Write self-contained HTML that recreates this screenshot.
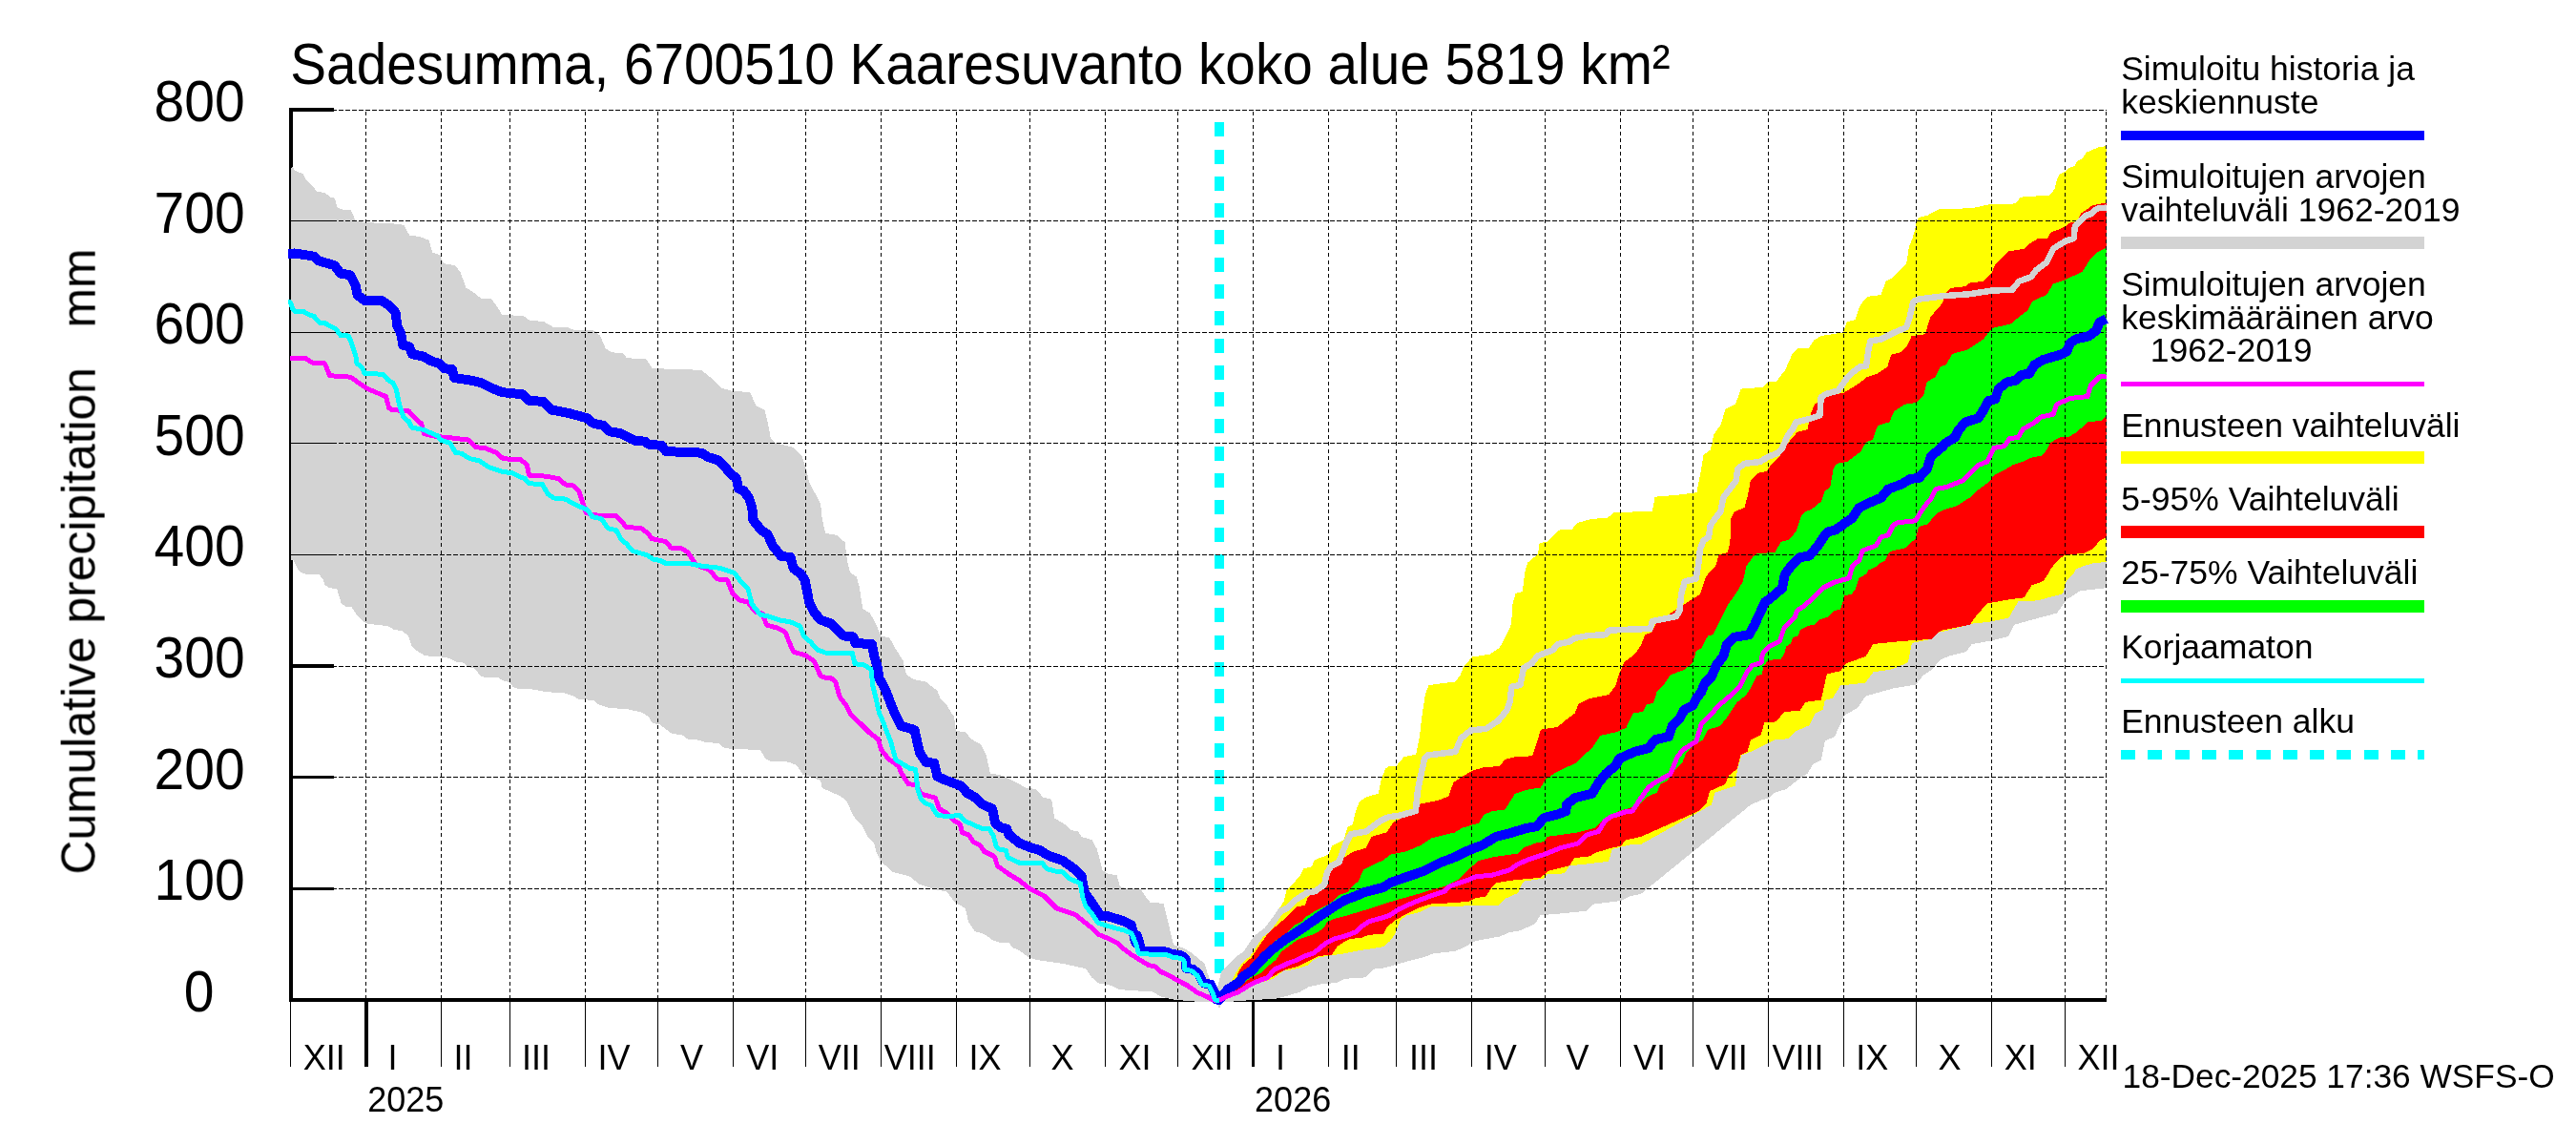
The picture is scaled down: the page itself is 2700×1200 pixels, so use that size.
<!DOCTYPE html>
<html><head><meta charset="utf-8"><title>Sadesumma</title><style>html,body{margin:0;padding:0;background:#fff;overflow:hidden}</style></head><body>
<svg width="2700" height="1200" viewBox="0 0 2700 1200" style="display:block">
<rect width="2700" height="1200" fill="#fff"/>
<g shape-rendering="crispEdges">
<line x1="1278.0" y1="1048.5" x2="1278.0" y2="115.0" stroke="#00ffff" stroke-width="10" stroke-dasharray="15 13.29"/>
<rect x="303.4" y="113.3" width="3.6" height="936.7" fill="#000"/>
<rect x="303.4" y="1046.0" width="1904.2" height="4" fill="#000"/>
<rect x="305" y="1046.3" width="45" height="3.4" fill="#000"/>
<rect x="305" y="929.7" width="45" height="3.4" fill="#000"/>
<rect x="305" y="813.0" width="45" height="3.4" fill="#000"/>
<rect x="305" y="696.4" width="45" height="3.4" fill="#000"/>
<rect x="305" y="579.8" width="45" height="3.4" fill="#000"/>
<rect x="305" y="463.2" width="45" height="3.4" fill="#000"/>
<rect x="305" y="346.6" width="45" height="3.4" fill="#000"/>
<rect x="305" y="229.9" width="45" height="3.4" fill="#000"/>
<rect x="305" y="113.3" width="45" height="3.4" fill="#000"/>
<rect x="304.4" y="1048.0" width="1" height="70" fill="#000"/>
<rect x="382.3" y="1048.0" width="3.4" height="70" fill="#000"/>
<rect x="462.3" y="1048.0" width="1" height="70" fill="#000"/>
<rect x="533.6" y="1048.0" width="1" height="70" fill="#000"/>
<rect x="612.6" y="1048.0" width="1" height="70" fill="#000"/>
<rect x="689.0" y="1048.0" width="1" height="70" fill="#000"/>
<rect x="768.0" y="1048.0" width="1" height="70" fill="#000"/>
<rect x="844.4" y="1048.0" width="1" height="70" fill="#000"/>
<rect x="923.3" y="1048.0" width="1" height="70" fill="#000"/>
<rect x="1002.3" y="1048.0" width="1" height="70" fill="#000"/>
<rect x="1078.7" y="1048.0" width="1" height="70" fill="#000"/>
<rect x="1157.6" y="1048.0" width="1" height="70" fill="#000"/>
<rect x="1234.1" y="1048.0" width="1" height="70" fill="#000"/>
<rect x="1311.9" y="1048.0" width="3.4" height="70" fill="#000"/>
<rect x="1392.0" y="1048.0" width="1" height="70" fill="#000"/>
<rect x="1463.3" y="1048.0" width="1" height="70" fill="#000"/>
<rect x="1542.2" y="1048.0" width="1" height="70" fill="#000"/>
<rect x="1618.7" y="1048.0" width="1" height="70" fill="#000"/>
<rect x="1697.6" y="1048.0" width="1" height="70" fill="#000"/>
<rect x="1774.0" y="1048.0" width="1" height="70" fill="#000"/>
<rect x="1853.0" y="1048.0" width="1" height="70" fill="#000"/>
<rect x="1931.9" y="1048.0" width="1" height="70" fill="#000"/>
<rect x="2008.3" y="1048.0" width="1" height="70" fill="#000"/>
<rect x="2087.3" y="1048.0" width="1" height="70" fill="#000"/>
<rect x="2163.7" y="1048.0" width="1" height="70" fill="#000"/>
<path d="M1275.5,1049 L1280.5,1049 L1278,1057.5Z" fill="#d3d3d3"/>
<path d="M304.6,176.2 L306.8,175.2 L309.7,179.1 L317.5,182.0 L320.4,187.8 L329.1,196.6 L332.0,200.9 L339.8,201.8 L346.6,206.7 L350.9,207.6 L353.4,217.0 L357.3,219.3 L367.9,220.5 L372.8,231.5 L383.5,233.1 L411.6,234.4 L423.3,235.8 L429.1,246.5 L439.8,248.0 L449.5,251.9 L453.3,264.5 L461.1,267.4 L465.0,276.2 L476.6,278.1 L482.5,284.9 L488.3,301.4 L496.0,306.2 L503.8,312.5 L514.5,313.0 L520.3,320.2 L526.1,329.5 L549.4,331.5 L555.2,335.9 L569.8,336.9 L579.5,342.7 L595.0,343.1 L601.8,346.0 L622.2,346.4 L629.0,351.9 L634.8,365.5 L641.6,369.3 L653.3,370.3 L656.7,375.2 L677.3,376.3 L683.9,386.1 L735.0,387.8 L743.7,394.8 L750.2,400.2 L756.7,406.8 L766.5,409.6 L786.1,411.1 L792.6,425.2 L801.3,429.6 L804.6,442.6 L807.8,459.0 L813.3,464.4 L830.7,468.7 L840.5,478.5 L844.8,490.5 L848.1,505.7 L853.5,515.5 L860.0,527.5 L861.7,543.5 L865.0,558.7 L877.0,560.9 L885.7,568.5 L887.8,587.0 L891.1,600.0 L897.6,604.4 L900.9,615.3 L904.2,638.1 L911.8,642.5 L916.1,650.1 L923.7,666.4 L932.4,668.6 L939.0,680.5 L946.6,692.5 L949.8,706.6 L957.4,712.0 L970.5,714.7 L982.5,724.0 L985.7,732.7 L991.2,737.1 L997.7,747.9 L999.9,750.9 L1002.0,766.1 L1011.8,767.2 L1018.3,774.8 L1028.1,780.2 L1033.6,791.1 L1037.9,810.7 L1048.8,812.2 L1068.4,821.6 L1073.8,825.3 L1085.8,827.0 L1093.4,835.7 L1102.1,837.9 L1105.3,857.4 L1116.2,864.0 L1122.7,870.1 L1130.3,871.6 L1133.6,877.0 L1144.5,880.3 L1149.9,890.1 L1155.4,911.8 L1160.8,915.7 L1170.6,917.3 L1173.8,929.2 L1179.3,931.0 L1195.6,931.8 L1201.0,940.1 L1205.4,945.5 L1219.5,947.0 L1224.9,968.4 L1229.3,987.9 L1230.9,990.5 L1240.2,993.6 L1248.7,998.3 L1255.0,1003.7 L1262.7,1010.0 L1265.8,1020.8 L1270.5,1031.7 L1275.2,1041.0 L1278.0,1050.3 L1278.0,1050.3 L1264.3,1050.4 L1242.5,1048.8 L1228.5,1047.3 L1216.1,1044.2 L1208.3,1039.5 L1174.1,1037.2 L1163.2,1032.5 L1150.8,1030.2 L1144.6,1024.7 L1138.4,1015.4 L1115.0,1010.0 L1087.1,1006.1 L1077.7,1003.0 L1068.4,996.0 L1062.2,993.6 L1057.5,988.2 L1048.8,987.9 L1041.2,985.8 L1031.4,978.8 L1021.6,976.0 L1015.1,966.2 L1011.8,952.0 L1000.9,945.5 L992.2,934.6 L979.2,931.8 L964.0,927.0 L953.1,918.3 L935.7,914.0 L923.7,903.1 L918.3,892.2 L916.1,883.5 L909.6,877.0 L903.1,864.4 L894.4,855.3 L887.8,840.0 L881.3,834.6 L861.7,825.9 L860.0,818.1 L852.4,814.9 L841.5,811.6 L835.0,801.8 L826.3,798.6 L806.7,797.5 L802.4,795.3 L797.0,786.0 L767.6,784.9 L758.9,783.8 L753.5,779.0 L739.3,777.9 L732.8,775.7 L720.8,774.6 L714.3,769.9 L704.5,769.2 L691.5,759.4 L683.9,757.9 L679.5,750.7 L671.9,746.4 L656.7,743.1 L638.2,742.0 L626.2,737.7 L623.0,734.0 L606.7,732.9 L601.2,729.6 L591.4,726.2 L574.0,725.3 L557.7,722.5 L543.6,721.8 L538.1,720.3 L533.8,714.8 L528.4,713.8 L521.8,710.1 L507.7,709.8 L503.3,708.3 L497.9,700.7 L491.4,699.2 L484.9,694.2 L478.3,693.5 L467.5,688.7 L452.2,688.1 L444.6,686.6 L437.0,682.2 L431.6,676.8 L428.3,667.0 L421.8,661.1 L413.1,660.0 L406.6,656.1 L385.9,653.9 L381.6,651.8 L373.9,644.2 L368.5,636.5 L362.0,635.5 L357.6,632.2 L353.3,617.4 L344.6,615.9 L340.2,612.6 L339.1,607.9 L334.8,602.5 L318.5,601.4 L313.0,598.1 L307.6,587.3 L304.6,586.2Z" fill="#d3d3d3"/>
<path d="M1278.0,1048.0 L1279.8,1032.8 L1283.3,1019.5 L1288.9,1013.9 L1297.2,1005.5 L1305.6,999.9 L1311.2,991.5 L1316.8,983.1 L1328.0,974.8 L1336.4,963.6 L1342.0,955.2 L1350.4,951.0 L1358.7,942.6 L1369.9,935.6 L1378.3,934.2 L1388.1,927.2 L1390.9,914.7 L1395.1,907.7 L1403.5,903.5 L1410.4,884.9 L1415.8,874.2 L1431.9,871.5 L1446.2,860.7 L1455.2,856.3 L1467.7,854.5 L1483.8,850.0 L1485.9,829.1 L1489.5,811.1 L1493.1,795.0 L1496.7,791.5 L1511.0,789.7 L1525.3,787.9 L1531.6,773.5 L1541.5,765.5 L1557.6,763.7 L1570.1,755.6 L1579.1,744.9 L1582.6,735.9 L1584.4,719.8 L1593.4,718.0 L1597.0,700.1 L1605.9,694.8 L1611.3,687.6 L1627.4,681.3 L1632.8,675.1 L1645.3,672.4 L1650.7,668.8 L1665.0,666.1 L1682.9,665.2 L1686.5,660.7 L1704.4,659.8 L1729.5,659.0 L1732.1,650.9 L1757.0,646.1 L1760.5,639.8 L1762.3,621.9 L1765.9,609.4 L1777.5,606.7 L1780.2,591.5 L1782.0,575.3 L1785.6,566.4 L1791.0,562.8 L1792.8,550.3 L1798.1,543.1 L1803.5,535.9 L1806.2,521.6 L1814.3,510.9 L1819.6,503.7 L1821.4,491.2 L1828.6,485.8 L1844.7,484.0 L1853.6,478.6 L1862.6,475.1 L1868.0,469.7 L1873.3,457.2 L1878.7,450.0 L1882.4,442.5 L1896.7,439.0 L1907.4,435.4 L1908.6,416.5 L1914.0,412.9 L1926.5,409.4 L1935.5,396.8 L1942.6,389.7 L1949.8,384.3 L1956.1,383.4 L1958.7,364.6 L1960.5,357.4 L1971.3,355.6 L1985.6,348.5 L1998.1,343.1 L2001.7,332.4 L2005.3,316.2 L2010.7,313.6 L2039.3,310.0 L2064.4,308.2 L2087.7,304.6 L2109.1,303.7 L2116.3,294.8 L2128.8,290.3 L2134.2,283.1 L2145.0,275.1 L2152.1,260.7 L2164.7,252.7 L2173.6,250.0 L2174.8,237.4 L2179.8,232.4 L2186.0,226.2 L2192.3,223.7 L2196.0,219.9 L2199.8,218.0 L2207.6,217.7 L2207.6,616.2 L2180.2,619.3 L2166.1,628.4 L2155.9,642.6 L2125.5,650.7 L2111.3,654.7 L2105.3,666.9 L2085.0,671.9 L2066.8,675.0 L2060.7,683.1 L2044.5,687.1 L2034.3,691.2 L2024.2,702.3 L2016.1,707.4 L2008.0,717.5 L1983.7,721.6 L1955.3,729.7 L1947.2,741.8 L1933.0,749.9 L1922.9,772.2 L1912.8,776.3 L1908.7,796.6 L1900.6,800.6 L1894.5,810.7 L1882.4,818.8 L1872.2,827.0 L1860.0,830.8 L1854.8,836.2 L1847.6,838.0 L1835.1,843.4 L1720.0,936.8 L1707.6,939.5 L1698.7,944.0 L1670.0,947.6 L1662.9,954.7 L1636.0,957.4 L1614.5,959.2 L1609.1,968.2 L1593.0,975.3 L1582.3,977.1 L1571.5,981.6 L1546.5,986.1 L1533.9,993.2 L1525.0,996.8 L1501.7,999.5 L1492.8,1003.1 L1474.9,1007.6 L1453.4,1013.8 L1450.0,1014.6 L1441.9,1015.3 L1437.7,1017.4 L1430.7,1024.4 L1409.7,1025.8 L1401.4,1030.0 L1384.6,1031.4 L1372.0,1034.2 L1362.2,1039.7 L1348.3,1043.9 L1337.1,1046.7 L1311.9,1048.1 L1284.0,1050.2 L1308.0,1050.3 L1278.0,1050.3Z" fill="#d3d3d3"/>
<path d="M1278.0,1048.0 L1284.0,1038.3 L1291.0,1027.9 L1296.6,1017.4 L1302.1,1009.0 L1310.5,1002.0 L1316.1,993.6 L1321.7,985.2 L1327.3,976.9 L1337.1,967.1 L1340.6,960.1 L1341.3,951.7 L1345.5,944.7 L1348.3,933.5 L1353.8,927.9 L1362.2,918.2 L1366.4,910.5 L1374.8,908.4 L1377.6,901.4 L1378.2,901.0 L1392.5,895.7 L1396.1,886.7 L1408.6,880.4 L1412.2,867.0 L1417.6,864.3 L1421.1,850.0 L1425.1,839.8 L1432.2,835.3 L1444.8,831.7 L1447.4,818.3 L1451.9,805.8 L1455.5,803.1 L1463.6,802.6 L1471.6,793.2 L1484.2,790.6 L1487.7,773.5 L1490.4,750.3 L1494.0,727.0 L1497.6,718.0 L1525.3,714.5 L1530.7,707.3 L1534.3,698.3 L1543.2,688.5 L1561.1,685.8 L1571.9,678.6 L1579.1,665.2 L1583.5,655.4 L1584.4,650.0 L1585.1,634.4 L1588.6,621.9 L1595.8,620.1 L1598.5,598.6 L1601.2,589.7 L1611.9,580.7 L1613.7,569.1 L1622.7,567.3 L1633.4,555.6 L1647.7,554.7 L1653.1,548.1 L1667.4,544.0 L1685.3,542.7 L1690.7,537.4 L1731.9,535.6 L1734.6,520.7 L1757.0,518.9 L1778.4,516.2 L1782.9,493.0 L1785.6,476.9 L1792.8,471.5 L1796.3,455.4 L1799.9,450.0 L1803.0,447.0 L1808.3,429.1 L1819.1,423.7 L1824.5,407.6 L1847.7,405.8 L1853.1,400.4 L1862.1,399.5 L1871.0,387.9 L1878.2,371.8 L1883.5,365.5 L1896.1,364.6 L1901.5,356.5 L1908.6,352.1 L1931.9,348.5 L1935.5,337.7 L1944.4,335.0 L1949.8,319.8 L1957.0,310.9 L1971.3,309.1 L1976.7,294.8 L1983.8,291.2 L1992.8,282.2 L1998.1,276.9 L2000.8,259.0 L2004.4,250.0 L2007.4,239.9 L2008.7,231.8 L2011.2,228.0 L2019.9,225.9 L2024.9,223.0 L2032.4,219.3 L2056.1,218.9 L2058.6,218.0 L2072.4,217.4 L2079.9,215.2 L2087.4,213.9 L2109.8,213.7 L2113.6,212.4 L2117.3,206.8 L2129.8,205.6 L2146.7,205.2 L2151.1,201.8 L2153.6,197.4 L2156.1,187.4 L2158.6,182.4 L2164.8,179.9 L2168.5,176.2 L2174.8,173.7 L2177.3,168.7 L2182.3,166.2 L2187.3,159.3 L2192.3,157.5 L2199.8,154.0 L2204.8,153.7 L2207.6,151.8 L2207.6,589.0 L2193.9,590.3 L2185.0,592.9 L2176.0,596.5 L2174.2,600.0 L2166.1,608.1 L2162.0,622.3 L2135.7,629.4 L2115.4,630.4 L2105.3,647.6 L2085.0,651.7 L2066.8,653.7 L2048.5,658.8 L2032.3,662.8 L2024.2,669.9 L2004.0,674.0 L1999.9,694.2 L1983.7,701.3 L1963.4,704.4 L1955.3,715.5 L1929.0,718.5 L1920.9,731.7 L1912.8,733.7 L1910.7,743.9 L1902.6,747.9 L1896.6,760.1 L1882.4,766.2 L1874.3,774.3 L1860.0,775.3 L1835.1,787.9 L1825.2,791.5 L1820.8,807.6 L1819.0,823.7 L1810.0,826.4 L1797.5,830.8 L1793.9,843.4 L1720.0,884.9 L1711.2,884.9 L1698.7,887.6 L1689.7,890.3 L1686.1,902.8 L1662.9,905.5 L1645.0,907.3 L1639.6,915.4 L1621.7,916.2 L1618.1,920.7 L1598.4,923.4 L1594.8,927.0 L1591.2,935.9 L1578.7,941.3 L1571.5,948.5 L1539.3,949.4 L1499.9,950.3 L1489.2,955.6 L1474.9,959.2 L1467.7,964.6 L1462.3,978.9 L1457.0,986.1 L1450.0,992.2 L1423.7,996.4 L1409.7,999.2 L1395.8,1001.3 L1381.8,1003.4 L1376.2,1006.2 L1370.6,1011.8 L1356.6,1016.0 L1345.5,1017.4 L1339.9,1021.6 L1334.3,1025.8 L1311.9,1032.8 L1284.0,1047.4 L1278.0,1048.0Z" fill="#ffff00"/>
<path d="M1278.0,1048.0 L1284.0,1039.7 L1295.2,1028.6 L1297.9,1018.8 L1303.5,1010.4 L1311.9,1003.4 L1317.5,995.0 L1323.1,986.6 L1328.7,978.3 L1339.9,968.5 L1349.7,960.1 L1359.4,950.3 L1367.8,948.9 L1370.6,940.5 L1377.6,934.9 L1386.0,930.7 L1388.8,922.4 L1393.0,908.4 L1400.0,905.6 L1406.9,900.0 L1417.6,893.0 L1431.9,888.5 L1437.3,876.9 L1453.4,872.4 L1460.5,861.6 L1471.3,856.3 L1483.8,850.0 L1484.2,843.4 L1507.4,838.9 L1518.2,834.4 L1523.5,820.1 L1534.3,812.9 L1543.2,807.6 L1555.8,804.0 L1571.9,803.1 L1577.3,795.9 L1588.0,793.2 L1605.9,792.3 L1609.5,782.5 L1614.9,764.6 L1632.8,761.9 L1639.9,755.6 L1650.7,747.6 L1654.3,737.7 L1665.0,732.4 L1686.5,727.9 L1693.6,718.0 L1697.2,705.5 L1702.6,693.9 L1713.3,685.8 L1720.5,675.1 L1724.1,665.2 L1731.2,662.5 L1736.6,651.8 L1782.0,622.8 L1787.4,605.8 L1791.0,600.4 L1798.1,593.2 L1801.7,581.6 L1810.7,578.9 L1813.4,568.2 L1814.3,543.1 L1817.8,536.8 L1828.6,531.5 L1832.2,518.0 L1834.8,503.7 L1842.9,495.7 L1851.9,493.9 L1857.2,485.8 L1864.4,479.5 L1871.5,467.9 L1876.9,460.7 L1884.1,452.7 L1894.8,450.0 L1896.7,437.2 L1899.7,429.1 L1902.3,422.8 L1906.8,421.9 L1912.2,414.7 L1931.9,412.0 L1939.1,407.6 L1948.0,402.2 L1957.0,395.0 L1967.7,391.5 L1978.4,384.3 L1982.0,371.8 L1992.8,369.1 L1999.9,361.0 L2003.5,352.1 L2017.8,350.3 L2023.2,332.4 L2035.7,318.0 L2039.3,307.3 L2044.7,301.9 L2060.8,300.1 L2064.4,296.6 L2078.7,294.8 L2087.7,285.8 L2091.2,276.9 L2100.2,267.9 L2105.6,263.4 L2121.7,260.7 L2127.1,255.4 L2136.0,250.0 L2146.1,249.9 L2149.8,243.0 L2156.1,241.2 L2164.8,237.4 L2168.5,233.7 L2176.7,232.4 L2181.0,223.7 L2188.5,218.7 L2191.0,216.2 L2199.8,213.7 L2207.6,213.0 L2207.6,563.4 L2201.1,566.1 L2193.9,575.0 L2185.0,579.5 L2163.5,582.2 L2158.1,585.8 L2149.1,596.5 L2147.8,600.0 L2141.7,609.1 L2129.6,613.2 L2121.5,626.3 L2105.3,628.4 L2083.0,632.4 L2072.8,643.6 L2064.7,654.7 L2034.3,660.8 L2024.2,669.9 L1993.8,671.9 L1963.4,675.0 L1955.3,688.1 L1935.1,695.2 L1929.0,703.3 L1914.8,706.4 L1908.7,733.7 L1892.5,735.8 L1886.4,744.9 L1870.2,745.9 L1862.1,756.0 L1860.0,756.5 L1849.4,757.4 L1845.8,770.0 L1835.1,775.3 L1831.5,787.9 L1824.4,791.5 L1820.8,805.8 L1811.8,812.9 L1808.2,821.9 L1792.1,829.1 L1788.5,841.6 L1781.4,849.6 L1720.0,876.9 L1704.0,880.4 L1698.7,886.7 L1689.7,888.5 L1671.8,893.9 L1666.4,897.4 L1650.3,899.2 L1645.0,907.3 L1623.5,912.7 L1614.5,919.8 L1585.9,922.5 L1568.0,925.2 L1564.4,928.8 L1557.2,939.5 L1546.5,941.3 L1539.3,944.9 L1514.3,946.7 L1498.1,947.6 L1485.6,952.1 L1474.9,957.4 L1462.3,964.6 L1453.4,971.8 L1450.0,979.0 L1434.9,979.7 L1426.5,983.1 L1415.3,983.8 L1409.7,986.6 L1401.4,992.2 L1395.8,1000.6 L1381.8,1002.0 L1376.2,1004.8 L1367.8,1009.0 L1359.4,1013.2 L1348.3,1016.0 L1339.9,1020.2 L1335.7,1023.0 L1331.5,1024.4 L1311.9,1031.4 L1284.0,1046.7 L1278.0,1048.0Z" fill="#ff0000"/>
<path d="M1278.0,1048.0 L1284.0,1039.7 L1304.9,1018.8 L1311.9,1010.4 L1325.9,997.8 L1335.7,986.6 L1348.3,978.3 L1356.6,969.9 L1365.0,965.7 L1367.8,961.5 L1379.0,954.5 L1390.2,948.9 L1398.6,943.3 L1404.2,937.7 L1412.5,934.9 L1418.1,927.9 L1423.7,923.8 L1429.3,911.2 L1437.7,907.0 L1450.0,901.4 L1457.0,895.7 L1474.9,892.1 L1489.2,885.8 L1499.9,878.6 L1525.0,872.4 L1532.2,867.9 L1550.1,862.5 L1555.4,853.6 L1564.4,850.0 L1577.3,848.7 L1588.0,831.7 L1602.3,827.3 L1614.9,825.5 L1620.2,816.5 L1631.0,809.4 L1638.1,805.8 L1650.7,800.4 L1659.6,791.5 L1668.6,784.3 L1677.5,770.9 L1693.6,767.3 L1704.4,762.8 L1711.5,747.6 L1722.3,745.8 L1725.9,738.6 L1733.0,736.8 L1736.6,725.2 L1743.8,718.0 L1750.9,707.3 L1765.3,701.9 L1774.2,694.8 L1777.8,682.2 L1783.2,679.5 L1790.3,666.1 L1795.7,665.2 L1801.1,653.6 L1810.7,634.4 L1819.6,621.9 L1826.8,609.4 L1830.4,593.2 L1837.5,583.4 L1841.1,580.3 L1860.8,578.9 L1866.2,568.2 L1875.1,565.5 L1882.3,557.4 L1887.7,541.3 L1893.0,535.9 L1898.4,534.2 L1909.1,525.2 L1912.7,514.5 L1918.1,510.9 L1921.7,491.2 L1925.3,485.8 L1936.0,484.0 L1950.3,473.3 L1955.7,463.4 L1962.9,460.7 L1966.4,450.0 L1968.3,446.1 L1979.1,442.5 L1980.2,442.5 L1985.6,430.8 L1996.3,423.7 L2008.9,421.9 L2016.0,414.7 L2019.6,400.4 L2028.6,395.0 L2033.9,384.3 L2039.3,382.5 L2046.5,370.9 L2062.6,366.4 L2078.7,355.6 L2087.7,344.0 L2107.4,339.5 L2118.1,330.6 L2125.3,325.2 L2130.6,315.4 L2145.0,309.1 L2152.1,297.4 L2162.9,293.9 L2182.6,284.9 L2189.7,273.3 L2198.7,264.3 L2207.6,259.8 L2207.6,435.4 L2202.9,440.7 L2188.5,442.5 L2176.0,453.3 L2168.8,457.8 L2158.1,458.6 L2149.1,464.0 L2145.6,471.2 L2140.2,477.4 L2127.7,480.1 L2120.5,483.7 L2109.8,487.3 L2100.8,492.7 L2090.1,498.0 L2084.7,505.2 L2072.2,514.2 L2065.0,521.3 L2050.7,530.3 L2036.3,534.7 L2031.0,537.4 L2020.0,549.4 L2011.2,552.1 L2007.6,564.6 L1996.9,574.4 L1980.8,578.0 L1975.4,587.9 L1971.0,590.0 L1965.4,594.5 L1958.5,597.4 L1956.3,601.4 L1948.3,605.9 L1944.9,617.3 L1940.4,622.9 L1933.6,624.1 L1931.9,629.7 L1929.0,638.8 L1922.2,640.0 L1915.4,646.8 L1906.3,649.6 L1902.9,654.2 L1893.8,656.4 L1887.0,659.8 L1884.7,666.1 L1879.1,668.4 L1876.8,674.6 L1872.2,677.4 L1870.0,685.4 L1866.6,690.5 L1852.9,692.2 L1848.4,699.0 L1846.7,707.0 L1841.6,708.1 L1835.9,719.5 L1829.7,728.8 L1820.8,735.9 L1810.0,752.1 L1802.9,761.0 L1790.3,764.6 L1785.0,775.3 L1777.8,778.9 L1767.1,789.7 L1763.5,798.6 L1754.5,807.6 L1747.4,818.3 L1740.2,821.9 L1736.6,830.8 L1727.7,834.4 L1716.9,844.3 L1696.9,850.0 L1689.7,853.6 L1679.0,860.7 L1671.8,867.9 L1653.9,872.4 L1621.7,876.9 L1618.1,882.2 L1610.9,883.1 L1596.6,888.5 L1591.2,894.8 L1582.3,895.7 L1564.4,898.3 L1550.1,901.9 L1539.3,910.9 L1528.6,921.6 L1514.3,928.8 L1498.1,933.3 L1483.8,937.7 L1464.1,943.1 L1450.0,947.5 L1437.7,951.7 L1423.7,955.9 L1409.7,960.1 L1398.6,962.9 L1391.6,965.7 L1387.4,972.7 L1379.0,978.3 L1367.8,982.4 L1359.4,985.2 L1353.8,989.4 L1342.7,997.8 L1337.1,1006.2 L1330.1,1011.8 L1323.1,1018.8 L1311.9,1024.4 L1284.0,1043.9 L1278.0,1048.0Z" fill="#00ff00"/>
<line x1="305.3" y1="931.5" x2="2207.6" y2="931.5" stroke="#000" stroke-width="1" stroke-dasharray="5 2.07"/>
<line x1="305" y1="931.5" x2="350" y2="931.5" stroke="#000" stroke-width="1"/>
<line x1="305.3" y1="814.5" x2="2207.6" y2="814.5" stroke="#000" stroke-width="1" stroke-dasharray="5 2.07"/>
<line x1="305" y1="814.5" x2="350" y2="814.5" stroke="#000" stroke-width="1"/>
<line x1="305.3" y1="698.5" x2="2207.6" y2="698.5" stroke="#000" stroke-width="1" stroke-dasharray="5 2.07"/>
<line x1="305" y1="698.5" x2="350" y2="698.5" stroke="#000" stroke-width="1"/>
<line x1="305.3" y1="581.5" x2="2207.6" y2="581.5" stroke="#000" stroke-width="1" stroke-dasharray="5 2.07"/>
<line x1="305" y1="581.5" x2="350" y2="581.5" stroke="#000" stroke-width="1"/>
<line x1="305.3" y1="464.5" x2="2207.6" y2="464.5" stroke="#000" stroke-width="1" stroke-dasharray="5 2.07"/>
<line x1="305" y1="464.5" x2="350" y2="464.5" stroke="#000" stroke-width="1"/>
<line x1="305.3" y1="348.5" x2="2207.6" y2="348.5" stroke="#000" stroke-width="1" stroke-dasharray="5 2.07"/>
<line x1="305" y1="348.5" x2="350" y2="348.5" stroke="#000" stroke-width="1"/>
<line x1="305.3" y1="231.5" x2="2207.6" y2="231.5" stroke="#000" stroke-width="1" stroke-dasharray="5 2.07"/>
<line x1="305" y1="231.5" x2="350" y2="231.5" stroke="#000" stroke-width="1"/>
<line x1="305.3" y1="115.5" x2="2207.6" y2="115.5" stroke="#000" stroke-width="1" stroke-dasharray="5 2.07"/>
<line x1="305" y1="115.5" x2="350" y2="115.5" stroke="#000" stroke-width="1"/>
<line x1="383.5" y1="117" x2="383.5" y2="1048.0" stroke="#000" stroke-width="1" stroke-dasharray="4 3.07"/>
<line x1="462.5" y1="117" x2="462.5" y2="1048.0" stroke="#000" stroke-width="1" stroke-dasharray="4 3.07"/>
<line x1="534.5" y1="117" x2="534.5" y2="1048.0" stroke="#000" stroke-width="1" stroke-dasharray="4 3.07"/>
<line x1="613.5" y1="117" x2="613.5" y2="1048.0" stroke="#000" stroke-width="1" stroke-dasharray="4 3.07"/>
<line x1="689.5" y1="117" x2="689.5" y2="1048.0" stroke="#000" stroke-width="1" stroke-dasharray="4 3.07"/>
<line x1="768.5" y1="117" x2="768.5" y2="1048.0" stroke="#000" stroke-width="1" stroke-dasharray="4 3.07"/>
<line x1="844.5" y1="117" x2="844.5" y2="1048.0" stroke="#000" stroke-width="1" stroke-dasharray="4 3.07"/>
<line x1="923.5" y1="117" x2="923.5" y2="1048.0" stroke="#000" stroke-width="1" stroke-dasharray="4 3.07"/>
<line x1="1002.5" y1="117" x2="1002.5" y2="1048.0" stroke="#000" stroke-width="1" stroke-dasharray="4 3.07"/>
<line x1="1079.5" y1="117" x2="1079.5" y2="1048.0" stroke="#000" stroke-width="1" stroke-dasharray="4 3.07"/>
<line x1="1158.5" y1="117" x2="1158.5" y2="1048.0" stroke="#000" stroke-width="1" stroke-dasharray="4 3.07"/>
<line x1="1234.5" y1="117" x2="1234.5" y2="1048.0" stroke="#000" stroke-width="1" stroke-dasharray="4 3.07"/>
<line x1="1313.5" y1="117" x2="1313.5" y2="1048.0" stroke="#000" stroke-width="1" stroke-dasharray="4 3.07"/>
<line x1="1392.5" y1="117" x2="1392.5" y2="1048.0" stroke="#000" stroke-width="1" stroke-dasharray="4 3.07"/>
<line x1="1463.5" y1="117" x2="1463.5" y2="1048.0" stroke="#000" stroke-width="1" stroke-dasharray="4 3.07"/>
<line x1="1542.5" y1="117" x2="1542.5" y2="1048.0" stroke="#000" stroke-width="1" stroke-dasharray="4 3.07"/>
<line x1="1619.5" y1="117" x2="1619.5" y2="1048.0" stroke="#000" stroke-width="1" stroke-dasharray="4 3.07"/>
<line x1="1698.5" y1="117" x2="1698.5" y2="1048.0" stroke="#000" stroke-width="1" stroke-dasharray="4 3.07"/>
<line x1="1774.5" y1="117" x2="1774.5" y2="1048.0" stroke="#000" stroke-width="1" stroke-dasharray="4 3.07"/>
<line x1="1853.5" y1="117" x2="1853.5" y2="1048.0" stroke="#000" stroke-width="1" stroke-dasharray="4 3.07"/>
<line x1="1932.5" y1="117" x2="1932.5" y2="1048.0" stroke="#000" stroke-width="1" stroke-dasharray="4 3.07"/>
<line x1="2008.5" y1="117" x2="2008.5" y2="1048.0" stroke="#000" stroke-width="1" stroke-dasharray="4 3.07"/>
<line x1="2087.5" y1="117" x2="2087.5" y2="1048.0" stroke="#000" stroke-width="1" stroke-dasharray="4 3.07"/>
<line x1="2164.5" y1="117" x2="2164.5" y2="1048.0" stroke="#000" stroke-width="1" stroke-dasharray="4 3.07"/>
<line x1="2207.6" y1="117" x2="2207.6" y2="1048.0" stroke="#000" stroke-width="1" stroke-dasharray="4 3.07"/>
</g>
<g fill="none" stroke-linejoin="round" stroke-linecap="butt" shape-rendering="crispEdges">
<path d="M1278.0,1048.0 L1279.8,1032.8 L1283.3,1019.5 L1288.9,1013.9 L1297.2,1005.5 L1305.6,999.9 L1311.2,991.5 L1316.8,983.1 L1328.0,974.8 L1336.4,963.6 L1342.0,955.2 L1350.4,951.0 L1358.7,942.6 L1369.9,935.6 L1378.3,934.2 L1388.1,927.2 L1390.9,914.7 L1395.1,907.7 L1403.5,903.5 L1410.4,884.9 L1415.8,874.2 L1431.9,871.5 L1446.2,860.7 L1455.2,856.3 L1467.7,854.5 L1483.8,850.0 L1485.9,829.1 L1489.5,811.1 L1493.1,795.0 L1496.7,791.5 L1511.0,789.7 L1525.3,787.9 L1531.6,773.5 L1541.5,765.5 L1557.6,763.7 L1570.1,755.6 L1579.1,744.9 L1582.6,735.9 L1584.4,719.8 L1593.4,718.0 L1597.0,700.1 L1605.9,694.8 L1611.3,687.6 L1627.4,681.3 L1632.8,675.1 L1645.3,672.4 L1650.7,668.8 L1665.0,666.1 L1682.9,665.2 L1686.5,660.7 L1704.4,659.8 L1729.5,659.0 L1732.1,650.9 L1757.0,646.1 L1760.5,639.8 L1762.3,621.9 L1765.9,609.4 L1777.5,606.7 L1780.2,591.5 L1782.0,575.3 L1785.6,566.4 L1791.0,562.8 L1792.8,550.3 L1798.1,543.1 L1803.5,535.9 L1806.2,521.6 L1814.3,510.9 L1819.6,503.7 L1821.4,491.2 L1828.6,485.8 L1844.7,484.0 L1853.6,478.6 L1862.6,475.1 L1868.0,469.7 L1873.3,457.2 L1878.7,450.0 L1882.4,442.5 L1896.7,439.0 L1907.4,435.4 L1908.6,416.5 L1914.0,412.9 L1926.5,409.4 L1935.5,396.8 L1942.6,389.7 L1949.8,384.3 L1956.1,383.4 L1958.7,364.6 L1960.5,357.4 L1971.3,355.6 L1985.6,348.5 L1998.1,343.1 L2001.7,332.4 L2005.3,316.2 L2010.7,313.6 L2039.3,310.0 L2064.4,308.2 L2087.7,304.6 L2109.1,303.7 L2116.3,294.8 L2128.8,290.3 L2134.2,283.1 L2145.0,275.1 L2152.1,260.7 L2164.7,252.7 L2173.6,250.0 L2174.8,237.4 L2179.8,232.4 L2186.0,226.2 L2192.3,223.7 L2196.0,219.9 L2199.8,218.0 L2207.6,217.7" stroke="#d3d3d3" stroke-width="6.5"/>
<path d="M301.5,265.9 L302.9,265.9 L308.7,265.5 L321.4,267.4 L329.1,268.8 L334.0,273.3 L350.5,278.1 L357.3,286.8 L367.0,288.2 L372.8,299.5 L374.7,309.2 L382.5,315.0 L400.9,315.4 L408.7,320.8 L414.5,327.6 L416.5,342.2 L420.3,349.9 L422.3,361.6 L429.1,363.5 L432.0,371.3 L443.5,373.5 L452.2,378.5 L459.9,380.7 L465.3,386.1 L474.0,387.2 L476.2,395.9 L495.7,399.1 L504.4,401.3 L513.1,405.7 L526.2,411.1 L547.9,413.3 L554.5,419.8 L569.7,420.9 L578.4,429.6 L595.8,432.9 L615.4,438.3 L621.9,443.7 L632.8,445.9 L639.3,452.4 L650.2,454.0 L665.4,461.8 L676.3,462.7 L679.5,465.5 L693.6,467.0 L698.0,473.1 L735.0,474.6 L742.6,479.2 L752.4,482.2 L758.9,488.3 L765.4,495.9 L771.9,501.4 L774.1,512.2 L779.6,514.4 L785.0,522.0 L788.3,531.8 L789.3,544.9 L798.0,555.7 L804.6,560.1 L810.0,572.0 L818.7,582.9 L828.5,584.0 L831.8,596.0 L839.4,601.4 L843.7,607.9 L848.1,631.1 L853.5,642.0 L860.0,649.6 L870.4,653.3 L879.1,662.0 L884.6,666.4 L894.4,667.5 L896.5,674.0 L913.9,675.1 L916.1,687.0 L919.4,697.9 L921.6,711.0 L928.1,722.9 L933.5,737.1 L937.9,747.9 L944.4,760.7 L958.5,765.0 L964.0,788.9 L970.5,798.7 L979.2,799.8 L982.5,813.9 L990.1,817.2 L1007.5,823.7 L1014.0,831.3 L1020.5,834.6 L1030.3,843.3 L1040.1,847.7 L1043.3,862.9 L1048.8,867.2 L1055.3,868.8 L1057.5,874.8 L1068.4,883.5 L1079.2,887.9 L1090.1,891.2 L1098.8,896.6 L1114.0,902.0 L1126.0,910.7 L1133.6,918.3 L1136.9,935.7 L1143.4,944.4 L1153.2,959.7 L1160.8,960.1 L1177.1,965.1 L1185.8,969.4 L1190.2,987.9 L1192.0,980.4 L1195.9,995.2 L1200.5,997.2 L1222.3,997.5 L1228.5,999.9 L1237.9,1001.4 L1242.5,1004.5 L1243.3,1014.6 L1250.3,1015.7 L1256.5,1020.8 L1261.2,1030.2 L1268.9,1031.7 L1272.8,1039.5 L1274.9,1047.3 L1278.0,1048.0 L1286.8,1036.9 L1297.9,1030.0 L1303.5,1023.0 L1311.9,1017.4 L1325.9,1002.0 L1337.1,992.2 L1348.3,983.8 L1359.4,976.9 L1373.4,967.1 L1387.4,957.3 L1395.8,951.7 L1409.7,943.3 L1420.9,939.1 L1430.7,934.9 L1450.0,930.0 L1457.0,925.2 L1474.9,918.9 L1492.8,912.7 L1503.5,907.3 L1510.7,903.7 L1525.0,898.3 L1539.3,891.2 L1553.6,885.8 L1568.0,876.9 L1582.3,873.3 L1600.2,867.9 L1610.9,866.1 L1618.1,857.2 L1632.4,853.6 L1641.4,850.0 L1641.7,843.4 L1650.7,836.2 L1668.6,831.7 L1675.7,820.1 L1682.9,811.1 L1693.6,802.2 L1697.2,795.0 L1713.3,787.9 L1727.7,784.3 L1734.8,775.3 L1749.1,771.8 L1752.7,761.0 L1759.9,753.8 L1765.3,744.0 L1774.2,739.5 L1777.8,732.4 L1783.2,725.2 L1786.8,716.2 L1793.9,709.1 L1799.3,696.6 L1806.4,687.6 L1810.0,675.1 L1817.2,667.9 L1833.3,665.2 L1838.7,655.4 L1850.1,630.8 L1855.4,627.3 L1868.0,616.5 L1870.7,602.2 L1878.7,591.5 L1885.9,584.3 L1896.6,582.5 L1905.6,571.8 L1912.7,561.0 L1916.3,557.4 L1923.5,555.6 L1936.0,546.7 L1941.4,543.1 L1948.5,532.4 L1959.3,527.0 L1971.8,521.6 L1979.0,512.7 L1993.3,507.3 L2002.3,501.9 L2011.2,501.0 L2020.0,491.2 L2023.8,478.3 L2034.6,469.4 L2039.9,464.0 L2048.9,458.6 L2052.5,451.5 L2059.6,442.5 L2073.9,438.1 L2080.5,427.3 L2084.1,420.1 L2091.2,418.3 L2094.8,407.6 L2103.8,400.4 L2112.7,398.6 L2118.1,393.2 L2127.1,391.5 L2132.4,382.5 L2141.4,377.1 L2159.3,371.8 L2166.4,368.2 L2170.0,359.2 L2175.4,355.6 L2189.7,352.1 L2196.9,346.7 L2200.5,337.7 L2207.6,334.2" stroke="#0000ff" stroke-width="10"/>
<path d="M304.0,375.7 L320.7,375.7 L327.2,380.0 L340.2,380.7 L345.7,393.7 L367.4,395.2 L376.1,401.3 L385.9,407.8 L404.4,415.5 L407.7,427.4 L410.9,429.6 L428.3,430.7 L433.8,437.2 L441.4,443.7 L444.6,454.6 L456.6,457.4 L474.0,459.0 L491.4,461.1 L499.0,468.7 L508.8,469.8 L520.7,474.6 L527.3,480.7 L545.8,481.8 L552.3,487.2 L554.5,498.1 L572.9,499.2 L586.0,501.8 L592.5,507.9 L601.2,509.0 L606.7,514.4 L611.0,527.5 L614.3,537.3 L621.9,539.9 L645.8,540.5 L656.7,552.5 L671.9,553.6 L679.5,559.0 L682.8,564.4 L698.0,567.7 L703.4,574.2 L714.3,574.7 L720.8,578.6 L729.5,591.6 L737.1,594.9 L743.7,597.1 L751.3,606.8 L762.2,607.9 L767.6,621.3 L775.2,628.9 L783.9,631.1 L791.5,640.9 L799.1,643.1 L803.5,655.0 L815.4,658.3 L823.1,662.6 L827.4,673.5 L831.8,683.3 L843.7,686.6 L853.5,693.1 L860.0,708.3 L863.9,709.9 L871.5,711.0 L875.9,715.3 L880.2,730.5 L886.8,739.2 L891.1,747.9 L903.1,759.6 L911.8,768.3 L920.5,774.8 L923.7,785.7 L931.3,795.5 L942.2,803.1 L944.4,809.6 L952.0,821.6 L959.6,822.6 L966.1,832.4 L980.3,836.1 L984.6,847.7 L992.2,852.0 L998.8,859.2 L1006.4,864.0 L1008.6,872.7 L1015.1,874.8 L1020.5,882.5 L1027.0,885.7 L1031.4,892.2 L1042.3,897.7 L1045.5,907.5 L1057.5,916.2 L1068.4,922.7 L1079.2,931.4 L1094.5,939.0 L1107.5,952.0 L1127.1,958.6 L1144.5,972.7 L1151.0,979.2 L1161.9,983.6 L1170.6,987.9 L1175.7,992.9 L1185.0,999.9 L1195.9,1006.8 L1203.7,1011.5 L1211.4,1013.1 L1216.9,1018.5 L1225.4,1022.4 L1236.3,1028.6 L1244.1,1032.5 L1255.0,1040.3 L1264.3,1044.2 L1272.1,1048.0 L1278.0,1048.0 L1286.8,1043.9 L1297.9,1039.7 L1309.1,1032.8 L1317.5,1028.6 L1328.7,1024.4 L1335.7,1016.0 L1345.5,1011.8 L1351.1,1009.0 L1359.4,1006.2 L1367.8,1002.0 L1376.2,999.2 L1381.8,995.0 L1390.2,988.0 L1398.6,983.8 L1409.7,981.1 L1420.9,976.9 L1426.5,971.3 L1434.9,965.7 L1450.0,961.5 L1457.0,959.2 L1465.9,953.0 L1483.8,944.9 L1498.1,939.5 L1514.3,934.2 L1519.6,928.8 L1535.7,923.4 L1546.5,918.9 L1564.4,917.1 L1582.3,911.8 L1591.2,905.5 L1603.8,900.1 L1618.1,895.7 L1636.0,888.5 L1653.9,884.0 L1662.9,875.1 L1675.4,871.5 L1682.6,859.8 L1689.7,855.4 L1704.0,850.9 L1711.2,850.0 L1718.7,838.0 L1727.7,825.5 L1734.8,820.1 L1750.9,811.1 L1758.1,793.2 L1763.5,786.1 L1777.8,777.1 L1783.2,759.2 L1792.1,750.3 L1802.9,737.7 L1808.2,734.2 L1823.4,719.5 L1831.4,703.6 L1837.0,697.3 L1846.1,694.5 L1847.3,685.4 L1852.9,678.6 L1865.4,671.8 L1870.0,658.1 L1881.3,646.8 L1883.6,640.0 L1890.4,635.4 L1899.5,627.5 L1910.8,616.1 L1922.2,610.4 L1938.1,605.9 L1941.5,593.4 L1944.9,590.0 L1948.5,587.9 L1952.1,577.1 L1966.4,571.8 L1971.8,562.8 L1979.0,561.0 L1984.4,550.3 L1989.7,547.6 L2007.6,545.8 L2014.8,534.2 L2020.0,527.0 L2023.8,523.1 L2029.2,512.4 L2039.9,510.6 L2057.8,503.4 L2065.0,496.2 L2073.9,487.3 L2082.9,483.7 L2090.1,469.4 L2100.8,467.6 L2106.2,459.5 L2115.1,458.6 L2120.5,449.7 L2133.0,442.5 L2138.4,437.2 L2150.9,434.5 L2152.1,434.4 L2155.7,423.7 L2170.0,417.4 L2187.9,415.6 L2191.5,404.0 L2200.5,395.0 L2207.6,394.1" stroke="#ff00ff" stroke-width="5"/>
<path d="M302.3,316.9 L304.3,316.9 L306.8,323.7 L309.7,326.6 L318.4,326.6 L323.3,329.5 L329.1,331.5 L334.9,338.3 L339.8,338.3 L352.4,345.1 L357.3,351.9 L365.0,351.9 L367.9,357.7 L372.2,371.3 L372.9,373.0 L373.9,380.7 L379.4,385.0 L382.2,391.5 L401.1,392.2 L406.6,398.1 L412.0,401.3 L415.3,407.8 L418.5,424.2 L422.9,437.2 L428.3,441.6 L431.6,448.1 L443.5,450.3 L458.8,456.8 L462.0,461.1 L471.8,464.4 L477.3,474.2 L483.8,475.3 L492.5,480.7 L502.3,482.9 L512.0,489.4 L526.2,494.2 L537.1,495.9 L545.8,500.3 L550.1,501.4 L554.5,506.8 L568.6,507.5 L574.0,517.7 L580.6,522.0 L592.5,523.1 L604.5,529.6 L615.4,534.0 L620.8,541.6 L630.6,543.8 L637.1,553.6 L645.8,555.7 L651.2,565.5 L656.7,569.9 L663.2,577.5 L678.4,581.8 L684.9,586.2 L691.5,587.3 L698.0,590.5 L724.1,591.0 L735.0,593.1 L754.5,595.3 L769.8,600.3 L775.2,607.9 L783.9,617.0 L788.3,633.3 L797.0,644.2 L806.7,646.3 L817.6,650.0 L828.5,651.8 L838.3,656.1 L842.6,667.0 L850.2,673.5 L856.8,681.1 L860.0,682.2 L866.1,684.4 L893.3,684.4 L896.1,695.7 L905.2,696.8 L912.9,701.2 L915.0,719.7 L918.3,732.7 L921.6,747.9 L923.7,752.0 L933.5,777.0 L939.0,796.5 L946.6,800.9 L953.1,805.2 L959.6,806.3 L961.8,827.0 L965.1,836.8 L970.5,842.2 L975.9,844.0 L982.5,854.2 L990.1,855.3 L1006.4,854.8 L1011.8,860.7 L1029.2,868.3 L1036.8,868.8 L1041.2,875.9 L1044.4,887.9 L1047.7,890.1 L1054.2,891.2 L1056.4,898.8 L1068.4,904.2 L1092.3,904.6 L1097.7,910.7 L1105.3,912.9 L1114.0,914.0 L1120.6,920.5 L1132.5,926.0 L1134.7,940.1 L1138.0,949.9 L1144.5,957.5 L1151.0,967.3 L1168.4,972.7 L1178.2,974.9 L1185.8,978.1 L1190.2,987.9 L1193.5,999.1 L1197.4,999.9 L1222.3,1000.3 L1228.5,1003.0 L1237.9,1004.5 L1241.0,1006.8 L1241.7,1016.2 L1248.7,1017.3 L1255.0,1022.4 L1259.6,1031.7 L1267.4,1033.3 L1271.3,1041.0 L1273.6,1048.0 L1278.0,1048.0" stroke="#00ffff" stroke-width="5"/>
</g>
<g shape-rendering="crispEdges">
<rect x="2223" y="137" width="318" height="10.0" fill="#0000ff"/>
<rect x="2223" y="247.8" width="318" height="13.0" fill="#d3d3d3"/>
<rect x="2223" y="399.5" width="318" height="5.3" fill="#ff00ff"/>
<rect x="2223" y="473.3" width="318" height="13.1" fill="#ffff00"/>
<rect x="2223" y="551" width="318" height="13.0" fill="#ff0000"/>
<rect x="2223" y="629" width="318" height="13.0" fill="#00ff00"/>
<rect x="2223" y="710.7" width="318" height="5.3" fill="#00ffff"/>
<line x1="2223" y1="791" x2="2541" y2="791" stroke="#00ffff" stroke-width="10" stroke-dasharray="15 13.3"/>
</g>
<g font-family="Liberation Sans, sans-serif" fill="#000" style="will-change:transform">
<text transform="translate(304.3,87.6) scale(1,1.063)" font-size="56.7" xml:space="preserve">Sadesumma, 6700510 Kaaresuvanto koko alue 5819 km²</text>
<text transform="translate(208.6,1059.9) scale(1,1.06)" font-size="57" text-anchor="middle">0</text>
<text transform="translate(256.6,943.3) scale(1,1.06)" font-size="57" text-anchor="end">100</text>
<text transform="translate(256.6,826.6) scale(1,1.06)" font-size="57" text-anchor="end">200</text>
<text transform="translate(256.6,710.0) scale(1,1.06)" font-size="57" text-anchor="end">300</text>
<text transform="translate(256.6,593.4) scale(1,1.06)" font-size="57" text-anchor="end">400</text>
<text transform="translate(256.6,476.8) scale(1,1.06)" font-size="57" text-anchor="end">500</text>
<text transform="translate(256.6,360.1) scale(1,1.06)" font-size="57" text-anchor="end">600</text>
<text transform="translate(256.6,243.5) scale(1,1.06)" font-size="57" text-anchor="end">700</text>
<text transform="translate(256.6,126.9) scale(1,1.06)" font-size="57" text-anchor="end">800</text>
<text transform="translate(99.6,916.5) rotate(-90)" font-size="49.8" xml:space="preserve">Cumulative precipitation   mm</text>
<text x="2223.2" y="84.19999999999999" font-size="35.5"  xml:space="preserve">Simuloitu historia ja</text>
<text x="2223.2" y="119.1" font-size="35.5"  xml:space="preserve">keskiennuste</text>
<text x="2223.2" y="197.0" font-size="35.5"  xml:space="preserve">Simuloitujen arvojen</text>
<text x="2223.2" y="231.9" font-size="35.5"  xml:space="preserve">vaihteluväli 1962-2019</text>
<text x="2223.2" y="310.0" font-size="35.5"  xml:space="preserve">Simuloitujen arvojen</text>
<text x="2223.2" y="344.8" font-size="35.5"  xml:space="preserve">keskimääräinen arvo</text>
<text x="2224.2" y="379.40000000000003" font-size="35.5"  xml:space="preserve">   1962-2019</text>
<text x="2223.2" y="458.3" font-size="35.5"  xml:space="preserve">Ennusteen vaihteluväli</text>
<text x="2223.2" y="535.1" font-size="35.5"  xml:space="preserve">5-95% Vaihteluväli</text>
<text x="2223.2" y="612.4" font-size="35.5"  xml:space="preserve">25-75% Vaihteluväli</text>
<text x="2223.2" y="690.3000000000001" font-size="35.5"  xml:space="preserve">Korjaamaton</text>
<text x="2223.2" y="768.2" font-size="35.5"  xml:space="preserve">Ennusteen alku</text>
<text x="2224.5" y="1139.8" font-size="35.3"  xml:space="preserve">18-Dec-2025 17:36 WSFS-O</text>
<text x="317.8" y="1120.7" font-size="36"  xml:space="preserve">XII</text>
<text x="406.5" y="1120.7" font-size="36"  xml:space="preserve">I</text>
<text x="475.6" y="1120.7" font-size="36"  xml:space="preserve">II</text>
<text x="547.0" y="1120.7" font-size="36"  xml:space="preserve">III</text>
<text x="626.4" y="1120.7" font-size="36"  xml:space="preserve">IV</text>
<text x="712.9" y="1120.7" font-size="36"  xml:space="preserve">V</text>
<text x="782.2" y="1120.7" font-size="36"  xml:space="preserve">VI</text>
<text x="857.7" y="1120.7" font-size="36"  xml:space="preserve">VII</text>
<text x="926.8" y="1120.7" font-size="36"  xml:space="preserve">VIII</text>
<text x="1015.5" y="1120.7" font-size="36"  xml:space="preserve">IX</text>
<text x="1101.4" y="1120.7" font-size="36"  xml:space="preserve">X</text>
<text x="1172.4" y="1120.7" font-size="36"  xml:space="preserve">XI</text>
<text x="1248.4" y="1120.7" font-size="36"  xml:space="preserve">XII</text>
<text x="1336.9" y="1120.7" font-size="36"  xml:space="preserve">I</text>
<text x="1405.7" y="1120.7" font-size="36"  xml:space="preserve">II</text>
<text x="1476.9" y="1120.7" font-size="36"  xml:space="preserve">III</text>
<text x="1555.7" y="1120.7" font-size="36"  xml:space="preserve">IV</text>
<text x="1641.6" y="1120.7" font-size="36"  xml:space="preserve">V</text>
<text x="1712.0" y="1120.7" font-size="36"  xml:space="preserve">VI</text>
<text x="1787.8" y="1120.7" font-size="36"  xml:space="preserve">VII</text>
<text x="1857.4" y="1120.7" font-size="36"  xml:space="preserve">VIII</text>
<text x="1945.3" y="1120.7" font-size="36"  xml:space="preserve">IX</text>
<text x="2031.6" y="1120.7" font-size="36"  xml:space="preserve">X</text>
<text x="2100.8" y="1120.7" font-size="36"  xml:space="preserve">XI</text>
<text x="2177.5" y="1120.7" font-size="36"  xml:space="preserve">XII</text>
<text x="385.3" y="1165" font-size="36"  xml:space="preserve">2025</text>
<text x="1315.1" y="1165" font-size="36"  xml:space="preserve">2026</text>
</g>
</svg>
</body></html>
